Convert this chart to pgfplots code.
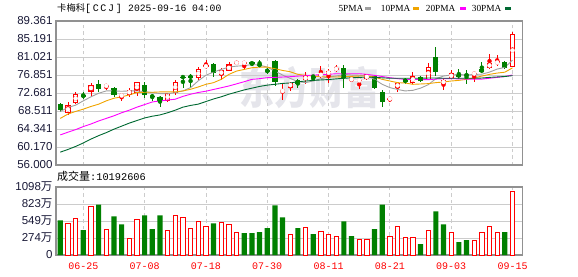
\documentclass[border=0pt]{standalone}
\usepackage{fontspec}
\setmainfont{Liberation Sans}
\newfontfamily\cjk{Noto Sans CJK SC}
\newfontfamily\mono{Liberation Mono}
\newfontfamily\serifx{Liberation Serif}
\usepackage{pgfplots}
\usepackage{pgfplotstable}
\pgfplotsset{compat=1.18}
\definecolor{cred}{RGB}{255,0,0}
\definecolor{cgreen}{RGB}{0,128,0}
\definecolor{ma5}{RGB}{160,160,160}
\definecolor{ma10}{RGB}{240,164,0}
\definecolor{ma20}{RGB}{255,0,255}
\definecolor{ma30}{RGB}{0,105,50}
\definecolor{gridc}{RGB}{204,204,204}
\definecolor{boxc}{RGB}{145,145,145}
\definecolor{labc}{RGB}{25,25,55}
\definecolor{wmark}{RGB}{229,229,235}

\pgfplotstableread{
i o h l c
1 67.95 70.63 67.64 69.86
2 70.32 72.85 70.09 72.55
4 73.01 75.00 72.09 74.62
6 74.23 74.69 73.47 74.46
8 72.05 72.55 70.86 72.14
9 72.24 73.77 71.78 73.47
10 72.78 75.30 72.01 75.30
14 70.86 72.78 70.71 72.70
15 72.78 75.60 72.24 75.30
18 76.23 78.68 75.60 78.14
19 78.68 80.44 78.14 79.06
21 76.92 78.53 75.69 77.91
22 77.76 79.83 77.76 79.29
23 79.45 80.21 79.14 79.90
24 79.60 79.90 77.99 79.75
29 73.08 75.00 71.01 73.24
30 73.93 75.30 73.16 75.08
32 75.69 77.60 74.85 76.61
34 76.84 78.83 76.23 76.99
35 76.99 78.30 74.92 77.76
36 77.99 79.06 77.60 78.53
38 75.77 76.23 75.30 75.92
39 75.54 75.84 73.54 75.69
40 75.84 77.10 75.69 76.99
43 71.09 71.70 70.63 71.63
44 73.85 75.30 72.93 75.00
46 75.08 77.53 74.85 76.61
48 75.69 79.52 75.60 78.76
50 74.85 75.84 73.39 75.61
51 76.07 77.99 75.84 77.30
54 76.99 77.76 75.23 77.38
56 78.45 81.82 78.30 79.68
57 79.52 81.59 78.91 79.98
59 78.76 86.80 78.68 86.34
}\up

\pgfplotstableread{
i o h l c
0 70.09 70.30 68.20 68.64
3 72.24 72.93 71.32 71.78
5 74.85 75.60 72.85 73.62
7 73.77 74.00 71.86 72.15
11 74.62 75.30 71.47 72.24
12 72.01 72.55 70.94 71.86
13 71.86 71.90 69.48 70.86
16 76.46 76.60 73.93 76.30
17 76.53 76.99 73.93 76.38
20 79.45 79.52 76.38 77.38
25 79.90 79.95 78.91 79.29
26 79.37 80.44 78.68 78.91
27 77.91 78.45 77.15 77.76
28 80.21 80.29 74.23 75.30
31 75.61 75.84 73.93 74.85
33 76.61 76.70 75.46 76.38
37 78.53 79.06 73.93 76.07
41 76.61 76.84 73.54 73.93
42 72.93 73.31 69.33 70.63
45 75.77 76.23 74.85 75.30
47 76.46 76.61 75.30 75.46
49 81.05 83.28 76.61 77.60
52 76.99 78.14 76.00 76.46
53 77.15 77.91 74.85 76.53
55 78.14 79.83 77.30 77.53
58 79.83 79.98 78.30 78.53
}\down

\pgfplotstableread{
i m5 m10 m20 m30
0 68.41 66.80 62.97 58.98
1 69.33 67.80 63.60 59.60
2 69.86 68.41 64.20 60.30
3 70.86 68.94 64.90 61.10
4 71.80 69.56 65.50 62.00
5 72.62 70.09 66.20 62.80
6 73.16 70.86 66.80 63.50
7 73.16 71.47 67.40 64.30
8 73.08 71.78 68.10 65.00
9 73.16 72.24 68.70 65.70
10 73.16 72.78 69.40 66.30
11 73.01 72.85 70.00 66.90
12 72.78 72.85 70.60 67.30
13 72.55 72.93 70.85 67.60
14 72.50 72.93 71.05 68.10
15 72.78 72.93 71.24 68.70
16 73.16 73.16 71.90 69.40
17 73.93 73.54 72.40 69.80
18 75.50 74.08 72.80 70.10
19 76.80 74.69 73.10 70.70
20 77.53 75.08 73.50 71.30
21 78.14 75.84 73.90 71.80
22 78.68 76.99 74.31 72.40
23 78.91 77.76 74.80 72.90
24 79.00 78.14 75.30 73.40
25 79.29 78.53 75.84 73.80
26 79.14 78.68 76.00 74.20
27 78.68 78.68 76.23 74.50
28 77.76 78.30 76.30 74.70
29 76.84 77.91 76.38 74.90
30 76.07 77.60 76.46 75.00
31 75.31 76.99 76.60 75.30
32 75.08 76.76 76.70 75.45
33 75.46 76.61 76.84 75.60
34 76.00 76.46 76.90 75.70
35 76.38 76.38 77.00 75.80
36 76.61 76.38 77.15 75.95
37 76.99 76.46 77.15 76.10
38 76.84 76.53 77.15 76.20
39 76.80 76.61 77.15 76.30
40 76.61 76.61 77.00 76.35
41 75.84 76.38 76.76 76.30
42 74.69 75.84 76.50 76.20
43 73.93 75.46 76.23 76.10
44 73.50 75.08 76.00 76.10
45 73.16 75.00 75.84 76.10
46 73.30 74.69 75.80 76.10
47 73.80 74.77 75.80 76.10
48 74.60 74.85 75.77 76.15
49 76.00 75.08 75.90 76.15
50 76.61 75.23 76.00 76.10
51 76.84 75.46 76.00 76.10
52 76.99 75.61 75.95 76.10
53 76.84 75.84 75.90 76.10
54 76.99 76.20 75.90 76.10
55 77.04 76.60 75.90 76.15
56 77.52 77.00 76.10 76.30
57 78.22 77.30 76.30 76.40
58 78.62 77.50 76.50 76.50
59 80.30 78.50 76.86 76.70
}\ma

\pgfplotstableread{
i v
1 506
2 586
4 778
6 410
9 267
10 570
14 394
15 634
16 602
17 426
18 538
19 458
21 522
22 490
23 362
30 330
32 448
34 378
35 330
36 298
39 250
40 250
43 298
44 458
45 282
46 282
48 394
51 362
54 235
55 362
56 458
57 362
59 1019
}\volr

\pgfplotstableread{
i v
0 560
3 400
5 815
7 624
8 496
11 640
12 416
13 640
20 512
24 352
25 352
26 368
27 432
28 800
29 608
31 432
33 336
37 544
38 304
41 416
42 815
47 176
49 704
50 496
52 208
53 240
58 368
}\volg

\pgfplotsset{
  kbase/.style={
    scale only axis, width=466.7pt,
    xmin=-0.56, xmax=60.33,
    axis line style={boxc, line width=1.1pt},
    major tick length=0pt, tick style={draw=none},
    xmajorgrids, ymajorgrids,
    x grid style={gridc, dash pattern=on 3.5pt off 3pt, line width=0.8pt},
    y grid style={gridc, line width=0.9pt},
    xtick={3,11,19,27,35,43,51,59},
    yticklabel style={font=\fontsize{11.5}{12}\selectfont, text=labc},
  }
}

\begin{document}
\begin{tikzpicture}
\path[use as bounding box] (0,0) rectangle (578pt,276pt);
\node[text=wmark, inner sep=0] at (309pt,188pt) {\scalebox{1}[1.25]{\cjk\bfseries\fontsize{35}{36}\selectfont 东方财富}};

\begin{axis}[kbase,
  at={(56pt,111pt)}, anchor=south west, height=144pt,
  ymin=56, ymax=89.361,
  ytick={56,60.170,64.341,68.511,72.681,76.851,81.021,85.191,89.361},
  yticklabels={56.000,60.170,64.341,68.511,72.681,76.851,81.021,85.191,89.361},
  xticklabels={},
]
% up candles (red hollow)
\addplot[cred, only marks, mark=none, forget plot, error bars/.cd, y dir=both, y explicit, error mark=none, error bar style={line width=0.8pt, cred}]
  table[x=i, y expr={(\thisrow{h}+\thisrow{l})/2}, y error expr={(\thisrow{h}-\thisrow{l})/2}] {\up};
\addplot[cred, only marks, mark=none, forget plot, error bars/.cd, y dir=both, y explicit, error mark=none, error bar style={line width=5.2pt, cred}]
  table[x=i, y expr={(\thisrow{o}+\thisrow{c})/2}, y error expr={max(abs(\thisrow{c}-\thisrow{o})/2,0.11)}] {\up};
\addplot[white, only marks, mark=none, forget plot, error bars/.cd, y dir=both, y explicit, error mark=none, error bar style={line width=3.3pt, white}]
  table[x=i, y expr={(\thisrow{o}+\thisrow{c})/2}, y error expr={max(abs(\thisrow{c}-\thisrow{o})/2-0.24,0)}] {\up};
% down candles (green filled)
\addplot[cgreen, only marks, mark=none, forget plot, error bars/.cd, y dir=both, y explicit, error mark=none, error bar style={line width=0.8pt, cgreen}]
  table[x=i, y expr={(\thisrow{h}+\thisrow{l})/2}, y error expr={(\thisrow{h}-\thisrow{l})/2}] {\down};
\addplot[cgreen, only marks, mark=none, forget plot, error bars/.cd, y dir=both, y explicit, error mark=none, error bar style={line width=5.2pt, cgreen}]
  table[x=i, y expr={(\thisrow{o}+\thisrow{c})/2}, y error expr={max(abs(\thisrow{c}-\thisrow{o})/2,0.11)}] {\down};
% moving averages
\addplot[ma5, line width=0.9pt, mark=none] table[x=i, y=m5] {\ma};
\addplot[ma10, line width=0.9pt, mark=none] table[x=i, y=m10] {\ma};
\addplot[ma20, line width=0.9pt, mark=none] table[x=i, y=m20] {\ma};
\addplot[ma30, line width=0.9pt, mark=none] table[x=i, y=m30] {\ma};
\end{axis}

\begin{axis}[kbase,
  at={(56pt,21pt)}, anchor=south west, height=68pt,
  ymin=0, ymax=1098,
  ytick={0,274.5,549,823.5,1098},
  yticklabels={0,274{\cjk 万},549{\cjk 万},823{\cjk 万},1098{\cjk 万}},
  xticklabels={06-25,07-08,07-18,07-30,08-11,08-21,09-03,09-15},
  xticklabel style={font=\mono\fontsize{10}{10}\selectfont, text=cred, yshift=-4pt},
]
\addplot[ybar, bar width=4.3pt, bar shift=0pt, draw=cred, fill=white, line width=0.9pt, forget plot] table[x=i, y=v] {\volr};
\addplot[ybar, bar width=5.2pt, bar shift=0pt, draw=none, fill=cgreen, forget plot] table[x=i, y=v] {\volg};
\end{axis}

% title
\node[anchor=west, inner sep=0] at (57pt,267.5pt) {{\cjk\fontsize{9.3}{10}\selectfont 卡梅科}{\mono\fontsize{10}{10}\selectfont[\,C\,C\,J\,]}};
\node[anchor=west, inner sep=0] at (128pt,267.5pt) {\mono\fontsize{9.7}{10}\selectfont 2025-09-16 04:00};
% legend
\node[anchor=west, inner sep=0] at (338.3pt,267.7pt) {\serifx\fontsize{9.3}{10}\selectfont 5PMA};
\fill[ma5] (365pt,266pt) rectangle (371pt,268.7pt);
\node[anchor=west, inner sep=0] at (380.7pt,267.7pt) {\serifx\fontsize{9.3}{10}\selectfont 10PMA};
\fill[ma10] (413pt,266pt) rectangle (419pt,268.7pt);
\node[anchor=west, inner sep=0] at (425.7pt,267.7pt) {\serifx\fontsize{9.3}{10}\selectfont 20PMA};
\fill[ma20] (460pt,266pt) rectangle (466pt,268.7pt);
\node[anchor=west, inner sep=0] at (471.7pt,267.7pt) {\serifx\fontsize{9.3}{10}\selectfont 30PMA};
\fill[ma30] (505pt,266pt) rectangle (511pt,268.7pt);
% volume label
\node[anchor=west, inner sep=0] at (57pt,99.3pt) {{\cjk\fontsize{11}{12}\selectfont 成交量}{\mono\fontsize{10.3}{11}\selectfont :10192606}};
\end{tikzpicture}
\end{document}
